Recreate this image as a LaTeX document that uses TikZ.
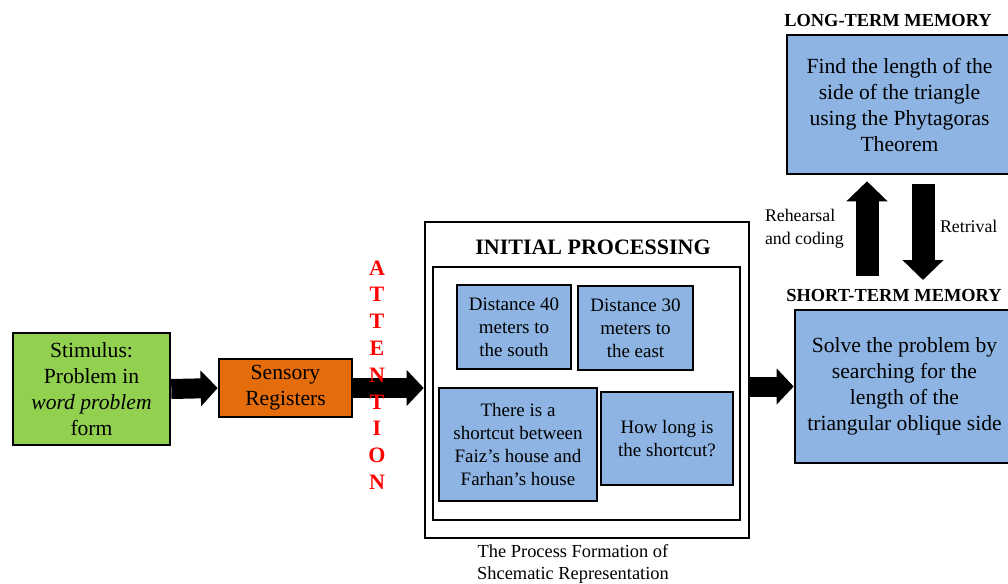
\documentclass[tikz,border=0pt]{standalone}
\usepackage{fontspec}
\setmainfont{Liberation Serif}
\usetikzlibrary{arrows.meta}
\definecolor{stimgreen}{RGB}{146,208,80}
\definecolor{sensorange}{RGB}{228,108,10}
\definecolor{memblue}{RGB}{141,180,226}
\definecolor{attred}{RGB}{255,0,0}
\tikzset{
  box/.style={draw=black,line width=1.3pt,align=center,inner sep=2pt},
  bigtxt/.style={font=\fontsize{10.8}{13}\selectfont},
  smalltxt/.style={font=\fontsize{9.5}{11.5}\selectfont},
  lbltxt/.style={font=\fontsize{8.9}{11.5}\selectfont},
  capt/.style={font=\fontsize{9.2}{11}\selectfont,align=center},
  head/.style={font=\fontsize{11}{13}\selectfont\bfseries},
  memhead/.style={font=\fontsize{9.2}{11}\selectfont\bfseries},
  fat/.style={line width=10pt,-{Triangle[width=17.5pt,length=8.5pt]}},
  fatv/.style={line width=11.5pt,-{Triangle[width=20pt,length=10pt]}},
}
\begin{document}
\begin{tikzpicture}[x=0.5pt,y=-0.5pt]
  \useasboundingbox (0,0) rectangle (1008,584);
  \node[box,fill=stimgreen,bigtxt,minimum width=78.5pt,minimum height=56pt] (stim) at (91.5,389) {Stimulus:\\Problem in\\\textit{word problem}\\form};
  \node[box,fill=sensorange,bigtxt,minimum width=66.5pt,minimum height=29pt] (sens) at (285.5,388) {Sensory\\Registers};
  \draw[fat] (stim.east) -- (sens.west);
  \node[box,minimum width=162pt,minimum height=158pt] (initp) at (587,380) {};
  \node[head] (initt) at (593,247) {INITIAL PROCESSING};
  \node[box,line width=1.2pt,minimum width=153.5pt,minimum height=126.5pt] (inner) at (586.5,393.5) {};
  \node[box,fill=memblue,smalltxt,minimum width=57pt,minimum height=42pt] (dsouth) at (514,327) {Distance 40\\meters to\\the south};
  \node[box,fill=memblue,smalltxt,minimum width=57.5pt,minimum height=42pt] (deast) at (635.5,328) {Distance 30\\meters to\\the east};
  \node[box,fill=memblue,smalltxt,minimum width=79pt,minimum height=56.5pt] (shortc) at (518,444.5) {There is a\\shortcut between\\Faiz's house and\\Farhan's house};
  \node[box,fill=memblue,smalltxt,minimum width=66pt,minimum height=46.5pt] (howlong) at (667,438.5) {How long is\\the shortcut?};
  \node[capt] (procc) at (573,564) {The Process Formation of\\Shcematic Representation};
  \draw[fat] (sens.east) -- (sens.east -| initp.west);
  \node[head,text=attred,align=center,font=\fontsize{11}{13.4}\selectfont\bfseries] (attn) at (377,375) {A\\T\\T\\E\\N\\T\\I\\O\\N};
  \node[box,fill=memblue,bigtxt,minimum width=109.5pt,minimum height=76.5pt] (stm) at (904.5,386.5) {Solve the problem by\\searching for the\\length of the\\triangular oblique side};
  \node[memhead] (stmt) at (894,295) {SHORT-TERM MEMORY};
  \draw[fat] (initp.east |- stm.west) -- (stm.west);
  \node[box,fill=memblue,bigtxt,minimum width=112.5pt,minimum height=69.5pt] (ltm) at (899.5,104.5) {Find the length of the\\side of the triangle\\using the Phytagoras\\Theorem};
  \node[memhead] (ltmt) at (888,20) {LONG-TERM MEMORY};
  \coordinate (rehS) at (867,276);
  \coordinate (retE) at (923,280);
  \draw[fatv,shorten >=3pt] (rehS) -- (rehS |- ltm.south);
  \draw[fatv,shorten <=4.5pt] (retE |- ltm.south) -- (retE);
  \node[lbltxt,anchor=west,align=left] (reh) at (758,228.5) {Rehearsal\\and coding};
  \node[lbltxt,anchor=west] (ret) at (933,226) {Retrival};
\end{tikzpicture}
\end{document}
